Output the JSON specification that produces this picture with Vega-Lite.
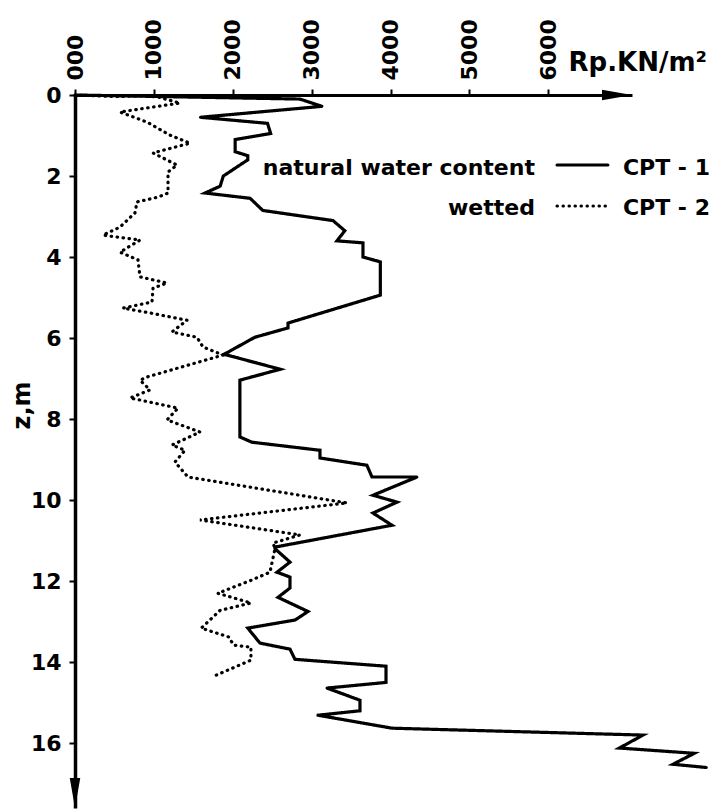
{
  "$schema": "https://vega.github.io/schema/vega-lite/v6.json",
  "width": 557,
  "height": 713,
  "autosize": {"type": "none"},
  "padding": {"left": 75, "top": 95, "right": 87, "bottom": 2},
  "background": "white",
  "config": {"view": {"stroke": null}, "font": "DejaVu Sans"},
  "datasets": {
    "curves": [
      {"series": "CPT-1", "i": 1, "z": 0, "Rp": 0},
      {"series": "CPT-1", "i": 2, "z": 0.1, "Rp": 2850},
      {"series": "CPT-1", "i": 3, "z": 0.28, "Rp": 3130},
      {"series": "CPT-1", "i": 4, "z": 0.55, "Rp": 1590},
      {"series": "CPT-1", "i": 5, "z": 0.7, "Rp": 2440},
      {"series": "CPT-1", "i": 6, "z": 0.95, "Rp": 2480},
      {"series": "CPT-1", "i": 7, "z": 1.1, "Rp": 2030},
      {"series": "CPT-1", "i": 8, "z": 1.4, "Rp": 2030},
      {"series": "CPT-1", "i": 9, "z": 1.5, "Rp": 2190},
      {"series": "CPT-1", "i": 10, "z": 1.6, "Rp": 2190},
      {"series": "CPT-1", "i": 11, "z": 2.0, "Rp": 1880},
      {"series": "CPT-1", "i": 12, "z": 2.25, "Rp": 1840},
      {"series": "CPT-1", "i": 13, "z": 2.42, "Rp": 1650},
      {"series": "CPT-1", "i": 14, "z": 2.55, "Rp": 2220},
      {"series": "CPT-1", "i": 15, "z": 2.85, "Rp": 2380},
      {"series": "CPT-1", "i": 16, "z": 3.1, "Rp": 3270},
      {"series": "CPT-1", "i": 17, "z": 3.35, "Rp": 3420},
      {"series": "CPT-1", "i": 18, "z": 3.6, "Rp": 3320},
      {"series": "CPT-1", "i": 19, "z": 3.65, "Rp": 3650},
      {"series": "CPT-1", "i": 20, "z": 4.0, "Rp": 3650},
      {"series": "CPT-1", "i": 21, "z": 4.12, "Rp": 3870},
      {"series": "CPT-1", "i": 22, "z": 4.94, "Rp": 3870},
      {"series": "CPT-1", "i": 23, "z": 5.63, "Rp": 2700},
      {"series": "CPT-1", "i": 24, "z": 5.75, "Rp": 2700},
      {"series": "CPT-1", "i": 25, "z": 5.98, "Rp": 2280},
      {"series": "CPT-1", "i": 26, "z": 6.4, "Rp": 1890},
      {"series": "CPT-1", "i": 27, "z": 6.77, "Rp": 2600},
      {"series": "CPT-1", "i": 28, "z": 7.04, "Rp": 2090},
      {"series": "CPT-1", "i": 29, "z": 8.44, "Rp": 2090},
      {"series": "CPT-1", "i": 30, "z": 8.57, "Rp": 2240},
      {"series": "CPT-1", "i": 31, "z": 8.77, "Rp": 3105},
      {"series": "CPT-1", "i": 32, "z": 8.96, "Rp": 3105},
      {"series": "CPT-1", "i": 33, "z": 9.14, "Rp": 3700},
      {"series": "CPT-1", "i": 34, "z": 9.43, "Rp": 3764},
      {"series": "CPT-1", "i": 35, "z": 9.43, "Rp": 4335},
      {"series": "CPT-1", "i": 36, "z": 9.88, "Rp": 3777},
      {"series": "CPT-1", "i": 37, "z": 10.05, "Rp": 4081},
      {"series": "CPT-1", "i": 38, "z": 10.32, "Rp": 3777},
      {"series": "CPT-1", "i": 39, "z": 10.62, "Rp": 4018},
      {"series": "CPT-1", "i": 40, "z": 11.16, "Rp": 2535},
      {"series": "CPT-1", "i": 41, "z": 11.2, "Rp": 2535},
      {"series": "CPT-1", "i": 42, "z": 11.53, "Rp": 2725},
      {"series": "CPT-1", "i": 43, "z": 11.78, "Rp": 2560},
      {"series": "CPT-1", "i": 44, "z": 11.9, "Rp": 2725},
      {"series": "CPT-1", "i": 45, "z": 12.17, "Rp": 2725},
      {"series": "CPT-1", "i": 46, "z": 12.4, "Rp": 2573},
      {"series": "CPT-1", "i": 47, "z": 12.75, "Rp": 2953},
      {"series": "CPT-1", "i": 48, "z": 12.96, "Rp": 2790},
      {"series": "CPT-1", "i": 49, "z": 13.16, "Rp": 2190},
      {"series": "CPT-1", "i": 50, "z": 13.53, "Rp": 2345},
      {"series": "CPT-1", "i": 51, "z": 13.68, "Rp": 2725},
      {"series": "CPT-1", "i": 52, "z": 13.93, "Rp": 2788},
      {"series": "CPT-1", "i": 53, "z": 14.1, "Rp": 3942},
      {"series": "CPT-1", "i": 54, "z": 14.5, "Rp": 3942},
      {"series": "CPT-1", "i": 55, "z": 14.64, "Rp": 3194},
      {"series": "CPT-1", "i": 56, "z": 14.94, "Rp": 3612},
      {"series": "CPT-1", "i": 57, "z": 15.2, "Rp": 3612},
      {"series": "CPT-1", "i": 58, "z": 15.31, "Rp": 3080},
      {"series": "CPT-1", "i": 59, "z": 15.63, "Rp": 4018},
      {"series": "CPT-1", "i": 60, "z": 15.8, "Rp": 7200},
      {"series": "CPT-1", "i": 61, "z": 16.12, "Rp": 6900},
      {"series": "CPT-1", "i": 62, "z": 16.25, "Rp": 7850},
      {"series": "CPT-1", "i": 63, "z": 16.52, "Rp": 7580},
      {"series": "CPT-1", "i": 64, "z": 16.6, "Rp": 8000},
      {"series": "CPT-2", "i": 1, "z": 0, "Rp": 0},
      {"series": "CPT-2", "i": 2, "z": 0.04, "Rp": 500},
      {"series": "CPT-2", "i": 3, "z": 0.02, "Rp": 800},
      {"series": "CPT-2", "i": 4, "z": 0.05, "Rp": 1050},
      {"series": "CPT-2", "i": 5, "z": 0.2, "Rp": 1330},
      {"series": "CPT-2", "i": 6, "z": 0.25, "Rp": 1150},
      {"series": "CPT-2", "i": 7, "z": 0.42, "Rp": 570},
      {"series": "CPT-2", "i": 8, "z": 0.67, "Rp": 913},
      {"series": "CPT-2", "i": 9, "z": 0.99, "Rp": 1204},
      {"series": "CPT-2", "i": 10, "z": 1.19, "Rp": 1458},
      {"series": "CPT-2", "i": 11, "z": 1.43, "Rp": 989},
      {"series": "CPT-2", "i": 12, "z": 1.73, "Rp": 1293},
      {"series": "CPT-2", "i": 13, "z": 1.9, "Rp": 1179},
      {"series": "CPT-2", "i": 14, "z": 2.42, "Rp": 1179},
      {"series": "CPT-2", "i": 15, "z": 2.52, "Rp": 1052},
      {"series": "CPT-2", "i": 16, "z": 2.64, "Rp": 786},
      {"series": "CPT-2", "i": 17, "z": 2.91, "Rp": 760},
      {"series": "CPT-2", "i": 18, "z": 3.26, "Rp": 570},
      {"series": "CPT-2", "i": 19, "z": 3.46, "Rp": 355},
      {"series": "CPT-2", "i": 20, "z": 3.58, "Rp": 824},
      {"series": "CPT-2", "i": 21, "z": 3.88, "Rp": 570},
      {"series": "CPT-2", "i": 22, "z": 4.07, "Rp": 798},
      {"series": "CPT-2", "i": 23, "z": 4.49, "Rp": 824},
      {"series": "CPT-2", "i": 24, "z": 4.64, "Rp": 1166},
      {"series": "CPT-2", "i": 25, "z": 4.77, "Rp": 989},
      {"series": "CPT-2", "i": 26, "z": 5.11, "Rp": 976},
      {"series": "CPT-2", "i": 27, "z": 5.26, "Rp": 608},
      {"series": "CPT-2", "i": 28, "z": 5.38, "Rp": 951},
      {"series": "CPT-2", "i": 29, "z": 5.56, "Rp": 1420},
      {"series": "CPT-2", "i": 30, "z": 5.85, "Rp": 1229},
      {"series": "CPT-2", "i": 31, "z": 5.98, "Rp": 1546},
      {"series": "CPT-2", "i": 32, "z": 6.22, "Rp": 1622},
      {"series": "CPT-2", "i": 33, "z": 6.42, "Rp": 1876},
      {"series": "CPT-2", "i": 34, "z": 6.96, "Rp": 913},
      {"series": "CPT-2", "i": 35, "z": 7.04, "Rp": 824},
      {"series": "CPT-2", "i": 36, "z": 7.28, "Rp": 951},
      {"series": "CPT-2", "i": 37, "z": 7.48, "Rp": 697},
      {"series": "CPT-2", "i": 38, "z": 7.53, "Rp": 824},
      {"series": "CPT-2", "i": 39, "z": 7.73, "Rp": 1305},
      {"series": "CPT-2", "i": 40, "z": 8.02, "Rp": 1166},
      {"series": "CPT-2", "i": 41, "z": 8.32, "Rp": 1584},
      {"series": "CPT-2", "i": 42, "z": 8.64, "Rp": 1229},
      {"series": "CPT-2", "i": 43, "z": 8.77, "Rp": 1394},
      {"series": "CPT-2", "i": 44, "z": 9.06, "Rp": 1267},
      {"series": "CPT-2", "i": 45, "z": 9.43, "Rp": 1432},
      {"series": "CPT-2", "i": 46, "z": 10.07, "Rp": 3447},
      {"series": "CPT-2", "i": 47, "z": 10.49, "Rp": 1584},
      {"series": "CPT-2", "i": 48, "z": 10.86, "Rp": 2852},
      {"series": "CPT-2", "i": 49, "z": 11.06, "Rp": 2510},
      {"series": "CPT-2", "i": 50, "z": 11.2, "Rp": 2535},
      {"series": "CPT-2", "i": 51, "z": 11.78, "Rp": 2471},
      {"series": "CPT-2", "i": 52, "z": 11.98, "Rp": 2230},
      {"series": "CPT-2", "i": 53, "z": 12.3, "Rp": 1810},
      {"series": "CPT-2", "i": 54, "z": 12.54, "Rp": 2230},
      {"series": "CPT-2", "i": 55, "z": 12.72, "Rp": 1840},
      {"series": "CPT-2", "i": 56, "z": 13.16, "Rp": 1600},
      {"series": "CPT-2", "i": 57, "z": 13.38, "Rp": 1950},
      {"series": "CPT-2", "i": 58, "z": 13.58, "Rp": 2010},
      {"series": "CPT-2", "i": 59, "z": 13.63, "Rp": 2230},
      {"series": "CPT-2", "i": 60, "z": 13.95, "Rp": 2230},
      {"series": "CPT-2", "i": 61, "z": 14.32, "Rp": 1790}
    ],
    "legendLines": [
      {"series": "CPT-1", "Rp": 6109, "Rp2": 6755, "z": 1.73},
      {"series": "CPT-2", "Rp": 6109, "Rp2": 6755, "z": 2.74}
    ],
    "legendText": [
      {"label": "natural water content", "side": "left", "Rp": 5830, "z": 1.98},
      {"label": "wetted", "side": "left", "Rp": 5830, "z": 2.96},
      {"label": "CPT - 1", "side": "right", "Rp": 6945, "z": 1.98},
      {"label": "CPT - 2", "side": "right", "Rp": 6945, "z": 2.96}
    ],
    "arrows": [
      {"dir": "x", "Rp": 7060, "z": 0},
      {"dir": "y", "Rp": 0, "z": 17.6}
    ]
  },
  "encoding": {
    "x": {
      "field": "Rp",
      "type": "quantitative",
      "scale": {"domain": [0, 7060], "nice": false, "zero": false},
      "axis": {
        "orient": "top",
        "values": [0, 1000, 2000, 3000, 4000, 5000, 6000],
        "labelExpr": "datum.value === 0 ? '000' : format(datum.value, 'd')",
        "labelAngle": 270,
        "labelAlign": "left",
        "labelBaseline": "middle",
        "labelFont": "DejaVu Sans",
        "labelFontWeight": "bold",
        "labelFontSize": 22,
        "labelColor": "black",
        "labelPadding": 9,
        "tickSize": 6,
        "tickWidth": 2,
        "tickColor": "black",
        "domainColor": "black",
        "domainWidth": 3,
        "grid": false,
        "title": "Rp.KN/m²",
        "titleFont": "DejaVu Sans",
        "titleFontWeight": "bold",
        "titleFontSize": 26,
        "titleColor": "black",
        "titleAngle": 0,
        "titleAlign": "left",
        "titleBaseline": "alphabetic",
        "titleX": 493,
        "titleY": -25
      }
    },
    "y": {
      "field": "z",
      "type": "quantitative",
      "scale": {"domain": [0, 17.6], "nice": false, "zero": false, "reverse": true},
      "axis": {
        "orient": "left",
        "values": [0, 2, 4, 6, 8, 10, 12, 14, 16],
        "labelFont": "DejaVu Sans",
        "labelFontWeight": "bold",
        "labelFontSize": 22,
        "labelColor": "black",
        "labelPadding": 8,
        "tickSize": 6,
        "tickWidth": 2,
        "tickColor": "black",
        "domainColor": "black",
        "domainWidth": 3.5,
        "grid": false,
        "title": "z,m",
        "titleFont": "DejaVu Sans",
        "titleFontWeight": "bold",
        "titleFontSize": 24,
        "titleColor": "black",
        "titleAngle": 270,
        "titleAlign": "center",
        "titleBaseline": "middle",
        "titleX": -53,
        "titleY": 310
      }
    }
  },
  "layer": [
    {
      "data": {"name": "curves"},
      "mark": {"type": "line", "color": "black", "strokeWidth": 3.2, "strokeCap": "round", "strokeJoin": "miter"},
      "encoding": {
        "detail": {"field": "series", "type": "nominal"},
        "order": {"field": "i", "type": "quantitative"},
        "strokeDash": {
          "field": "series",
          "type": "nominal",
          "scale": {"domain": ["CPT-1", "CPT-2"], "range": [[1, 0], [0.5, 5.5]]},
          "legend": null
        }
      }
    },
    {
      "data": {"name": "legendLines"},
      "mark": {"type": "rule", "color": "black", "strokeWidth": 3, "strokeCap": "round"},
      "encoding": {
        "x2": {"field": "Rp2"},
        "strokeDash": {
          "field": "series",
          "type": "nominal",
          "scale": {"domain": ["CPT-1", "CPT-2"], "range": [[1, 0], [0.5, 5.5]]},
          "legend": null
        }
      }
    },
    {
      "data": {"name": "legendText"},
      "transform": [{"filter": "datum.side === 'left'"}],
      "mark": {"type": "text", "align": "right", "baseline": "alphabetic", "font": "DejaVu Sans", "fontWeight": "bold", "fontSize": 22, "color": "black"},
      "encoding": {"text": {"field": "label"}}
    },
    {
      "data": {"name": "legendText"},
      "transform": [{"filter": "datum.side === 'right'"}],
      "mark": {"type": "text", "align": "left", "baseline": "alphabetic", "font": "DejaVu Sans", "fontWeight": "bold", "fontSize": 22, "color": "black"},
      "encoding": {"text": {"field": "label"}}
    },
    {
      "data": {"name": "arrows"},
      "mark": {"type": "point", "filled": true, "color": "black", "opacity": 1, "size": 225, "strokeWidth": 0},
      "encoding": {
        "shape": {
          "field": "dir",
          "type": "nominal",
          "scale": {"domain": ["x", "y"], "range": ["M0,0 L-4,-0.7 L-4,0.7 Z", "M0,0 L-0.7,-4 L0.7,-4 Z"]},
          "legend": null
        }
      }
    }
  ]
}
